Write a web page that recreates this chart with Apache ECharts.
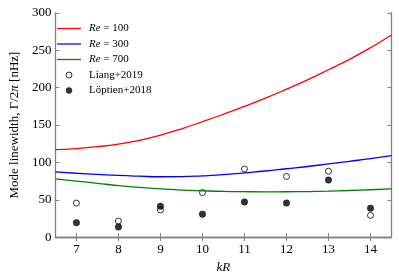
<!DOCTYPE html>
<html><head><meta charset="utf-8">
<script src="https://cdn.jsdelivr.net/npm/echarts@6/dist/echarts.min.js"></script>
<style>html,body{margin:0;padding:0;background:#fff}#c{width:399px;height:279px}</style>
</head><body><div id="c"></div>
<script>
const kR = [6.5,7,7.5,8,8.5,9,9.5,10,10.5,11,11.5,12,12.5,13,13.5,14,14.5];
const re100 = [117,118.5,121,124.5,129.5,136.5,145,154.5,164.5,175,186,198,210.5,224,238,253.5,270.5];
const re300 = [87.3,85.5,84,82.5,81.5,80.8,81,82,83.5,86,88.5,91.5,94.5,98,101.5,105,109];
const re700 = [78,75,72,69,66.5,64.5,63,62,61.2,60.8,60.6,60.7,61,61.6,62.4,63.4,64.5];
const obsKR = [7,8,9,10,11,12,13,14];
const liang = [45.6,21.5,36.4,59.6,91.2,81.2,88.2,29];
const loptien = [19.3,13.6,41.2,30.7,47,45.6,76.3,38.6];
const xTicks = [7,8,9,10,11,12,13,14];

const F = '"Liberation Serif", "DejaVu Serif", serif';
const pair = (xs, ys) => xs.map((x,i)=>[x, ys[i]]);
const axisLine = {show:true, lineStyle:{color:'#808080', width:1.3}};
const tickIn = {show:true, inside:true, length:4, lineStyle:{color:'#808080', width:1}};
const lineIcon = 'path://M0 0H96V5H0Z';

const chart = echarts.init(document.getElementById('c'), null, {renderer:'canvas'});
chart.setOption({
  animation:false,
  backgroundColor:'#fff',
  grid:{left:48, right:7.5, top:13, bottom:38.5, containLabel:false},
  xAxis:[
    {type:'value', min:6.5, max:14.5, position:'bottom',
     axisLine:axisLine, splitLine:{show:false},
     axisTick:Object.assign({customValues:xTicks}, tickIn),
     axisLabel:{customValues:xTicks, fontFamily:F, fontSize:13, color:'#000', margin:6},
     name:'{i|kR}', nameLocation:'middle', nameGap:22,
     nameTextStyle:{rich:{i:{fontFamily:F, fontSize:13, fontStyle:'italic', color:'#000'}}}},
    {type:'value', min:6.5, max:14.5, position:'top',
     axisLine:axisLine, splitLine:{show:false},
     axisTick:Object.assign({customValues:xTicks}, tickIn),
     axisLabel:{show:false}}
  ],
  yAxis:[
    {type:'value', min:0, max:300, interval:50, position:'left',
     axisLine:axisLine, splitLine:{show:false}, axisTick:tickIn,
     axisLabel:{fontFamily:F, fontSize:13, color:'#000', margin:4},
     name:'Mode linewidth, Γ/2{i|π} [nHz]', nameLocation:'middle', nameGap:33,
     nameTextStyle:{fontFamily:F, fontSize:13, color:'#000',
       rich:{i:{fontFamily:F, fontSize:13, fontStyle:'italic', color:'#000'}}}},
    {type:'value', min:0, max:300, interval:50, position:'right',
     axisLine:axisLine, splitLine:{show:false}, axisTick:tickIn,
     axisLabel:{show:false}}
  ],
  legend:{
    orient:'vertical', left:52, top:17.5, itemWidth:24, itemHeight:6, itemGap:3.5,
    textStyle:{fontFamily:F, fontSize:11, color:'#000', lineHeight:12, padding:[0,0,0,3],
      rich:{i:{fontFamily:F, fontSize:11, fontStyle:'italic', color:'#000'}}},
    formatter: n => n.startsWith('Re') ? '{i|Re}' + n.slice(2) : n,
    data:[
      {name:'Re = 100', icon:lineIcon, itemStyle:{color:'#ff0000', borderWidth:0}},
      {name:'Re = 300', icon:lineIcon, itemStyle:{color:'#0000ff', borderWidth:0}},
      {name:'Re = 700', icon:lineIcon, itemStyle:{color:'#008000', borderWidth:0}},
      {name:'Liang+2019', icon:'circle', itemStyle:{color:'#fff', borderColor:'#000', borderWidth:1}},
      {name:'Löptien+2018', icon:'circle', itemStyle:{color:'#000', borderColor:'#000', borderWidth:0.5}}
    ]
  },
  series:[
    {name:'Re = 100', type:'line', data:pair(kR, re100), smooth:true, symbol:'none',
     lineStyle:{color:'#ff0000', width:1.3}, itemStyle:{color:'#ff0000'}},
    {name:'Re = 300', type:'line', data:pair(kR, re300), smooth:true, symbol:'none',
     lineStyle:{color:'#0000ff', width:1.3}, itemStyle:{color:'#0000ff'}},
    {name:'Re = 700', type:'line', data:pair(kR, re700), smooth:true, symbol:'none',
     lineStyle:{color:'#008000', width:1.3}, itemStyle:{color:'#008000'}},
    {name:'Liang+2019', type:'scatter', data:pair(obsKR, liang), symbol:'circle', symbolSize:6,
     itemStyle:{color:'#fff', borderColor:'#000', borderWidth:1}},
    {name:'Löptien+2018', type:'scatter', data:pair(obsKR, loptien), symbol:'circle', symbolSize:6.5,
     itemStyle:{color:'#000', borderColor:'#000', borderWidth:0.5}}
  ]
});
</script></body></html>
